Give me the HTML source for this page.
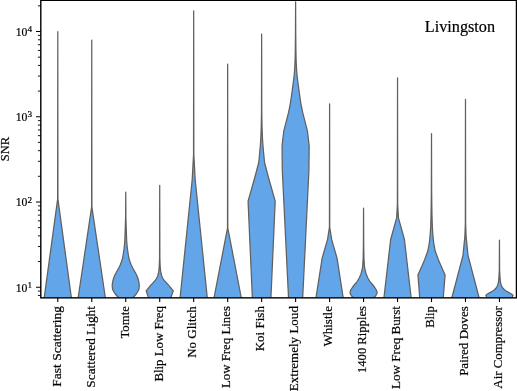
<!DOCTYPE html>
<html><head><meta charset="utf-8"><title>Livingston SNR</title>
<style>html,body{margin:0;padding:0;background:#fff;overflow:hidden}svg{display:block}</style></head>
<body>
<svg width="517" height="391" viewBox="0 0 517 391" style="display:block">
<rect width="517" height="391" fill="#ffffff"/>
<defs><clipPath id="ax"><rect x="40.8" y="0.3" width="475.65000000000003" height="297.55"/></clipPath></defs>
<g clip-path="url(#ax)" fill="#62a5e8" stroke="#606060" stroke-width="1.25" stroke-linejoin="round">
<path d="M57.79 31.70 L57.94 199.10 L71.36 297.50 L71.70 300.00 L43.88 300.00 L44.22 297.50 L57.64 199.10 Z"/>
<path d="M91.76 40.00 L91.91 207.10 L105.33 297.50 L105.70 300.00 L77.82 300.00 L78.19 297.50 L91.61 207.10 Z"/>
<path d="M125.74 192.00 L125.89 217.00 L126.34 232.00 L126.64 240.00 L127.24 247.70 L127.74 251.00 L128.34 255.00 L128.84 258.00 L129.94 261.50 L131.24 265.00 L132.74 268.00 L134.44 271.00 L136.64 275.00 L138.04 278.70 L138.94 282.50 L139.31 286.00 L138.94 289.00 L138.14 291.00 L136.24 294.00 L134.04 296.50 L132.74 298.00 L130.74 300.00 L120.74 300.00 L118.74 298.00 L117.44 296.50 L115.24 294.00 L113.34 291.00 L112.54 289.00 L112.17 286.00 L112.54 282.50 L113.44 278.70 L114.84 275.00 L117.04 271.00 L118.74 268.00 L120.24 265.00 L121.54 261.50 L122.64 258.00 L123.14 255.00 L123.74 251.00 L124.24 247.70 L124.84 240.00 L125.14 232.00 L125.59 217.00 Z"/>
<path d="M159.71 185.40 L159.86 258.00 L160.11 265.00 L160.31 268.00 L160.61 271.00 L161.11 273.50 L161.71 275.90 L162.91 278.50 L164.01 280.20 L166.21 282.60 L168.61 285.20 L173.28 290.80 L170.91 297.50 L170.01 300.00 L149.41 300.00 L148.51 297.50 L146.14 290.80 L150.81 285.20 L153.21 282.60 L155.41 280.20 L156.51 278.50 L157.71 275.90 L158.31 273.50 L158.81 271.00 L159.11 268.00 L159.31 265.00 L159.56 258.00 Z"/>
<path d="M193.69 10.80 L193.84 154.90 L195.19 179.70 L207.26 297.50 L207.51 300.00 L179.86 300.00 L180.12 297.50 L192.19 179.70 L193.54 154.90 Z"/>
<path d="M227.66 64.00 L227.81 228.00 L241.23 297.50 L241.72 300.00 L213.61 300.00 L214.09 297.50 L227.51 228.00 Z"/>
<path d="M261.64 34.00 L261.79 112.00 L262.04 127.00 L262.44 137.40 L262.84 144.00 L263.54 152.10 L264.54 162.50 L268.34 177.00 L275.21 201.20 L270.94 297.50 L270.83 300.00 L252.45 300.00 L252.34 297.50 L248.07 201.20 L254.94 177.00 L258.74 162.50 L259.74 152.10 L260.44 144.00 L260.84 137.40 L261.24 127.00 L261.49 112.00 Z"/>
<path d="M295.61 1.90 L295.76 36.00 L295.91 50.00 L296.11 60.00 L296.61 70.00 L297.11 76.00 L297.61 80.00 L298.01 83.20 L298.51 86.70 L299.01 90.50 L299.61 94.90 L300.31 99.80 L301.21 105.50 L302.61 112.20 L304.71 120.40 L307.41 130.90 L309.18 145.70 L308.91 170.80 L302.71 297.50 L302.59 300.00 L288.63 300.00 L288.51 297.50 L282.31 170.80 L282.04 145.70 L283.81 130.90 L286.51 120.40 L288.61 112.20 L290.01 105.50 L290.91 99.80 L291.61 94.90 L292.21 90.50 L292.71 86.70 L293.21 83.20 L293.61 80.00 L294.11 76.00 L294.61 70.00 L295.11 60.00 L295.31 50.00 L295.46 36.00 Z"/>
<path d="M329.59 103.80 L329.74 227.40 L331.69 239.70 L337.09 258.30 L343.16 297.50 L343.54 300.00 L315.63 300.00 L316.02 297.50 L322.09 258.30 L327.49 239.70 L329.44 227.40 Z"/>
<path d="M363.56 208.20 L363.71 245.00 L363.96 258.60 L364.46 266.30 L365.06 270.00 L366.16 274.00 L367.86 278.00 L370.16 281.80 L372.46 284.50 L374.76 287.50 L376.56 290.30 L377.13 292.40 L376.56 294.50 L375.36 296.20 L373.56 297.50 L370.06 300.00 L357.06 300.00 L353.56 297.50 L351.76 296.20 L350.56 294.50 L349.99 292.40 L350.56 290.30 L352.36 287.50 L354.66 284.50 L356.96 281.80 L359.26 278.00 L360.96 274.00 L362.06 270.00 L362.66 266.30 L363.16 258.60 L363.41 245.00 Z"/>
<path d="M397.54 77.90 L397.69 204.30 L398.44 217.90 L404.44 239.50 L411.11 297.50 L411.40 300.00 L383.68 300.00 L383.97 297.50 L390.64 239.50 L396.64 217.90 L397.39 204.30 Z"/>
<path d="M431.51 133.60 L431.66 190.00 L431.81 205.00 L432.01 216.00 L432.31 226.30 L432.61 231.10 L433.01 236.60 L433.71 243.10 L435.21 251.00 L438.91 261.10 L445.08 275.00 L443.31 297.50 L443.12 300.00 L419.91 300.00 L419.71 297.50 L417.94 275.00 L424.11 261.10 L427.81 251.00 L429.31 243.10 L430.01 236.60 L430.41 231.10 L430.71 226.30 L431.01 216.00 L431.21 205.00 L431.36 190.00 Z"/>
<path d="M465.49 99.30 L465.64 223.50 L466.09 236.10 L467.99 255.30 L479.06 297.50 L479.71 300.00 L451.26 300.00 L451.92 297.50 L462.99 255.30 L464.89 236.10 L465.34 223.50 Z"/>
<path d="M499.46 240.00 L499.61 270.00 L500.06 278.70 L500.46 282.00 L501.16 284.90 L502.36 287.50 L504.16 289.50 L506.16 291.00 L508.96 292.60 L511.46 294.00 L513.03 295.20 L512.36 297.00 L510.46 300.00 L488.46 300.00 L486.56 297.00 L485.89 295.20 L487.46 294.00 L489.96 292.60 L492.76 291.00 L494.76 289.50 L496.56 287.50 L497.76 284.90 L498.46 282.00 L498.86 278.70 L499.31 270.00 Z"/>
</g>
<rect x="40.8" y="0.3" width="475.65000000000003" height="297.55" fill="none" stroke="#000" stroke-width="1.4"/>
<path d="M57.79 297.85 v4.2 M91.76 297.85 v4.2 M125.74 297.85 v4.2 M159.71 297.85 v4.2 M193.69 297.85 v4.2 M227.66 297.85 v4.2 M261.64 297.85 v4.2 M295.61 297.85 v4.2 M329.59 297.85 v4.2 M363.56 297.85 v4.2 M397.54 297.85 v4.2 M431.51 297.85 v4.2 M465.49 297.85 v4.2 M499.46 297.85 v4.2 M40.8 287.20 h-4.8 M40.8 201.97 h-4.8 M40.8 116.74 h-4.8 M40.8 31.51 h-4.8" stroke="#000" stroke-width="1.1" fill="none"/>
<path d="M40.8 295.46 h-2.9 M40.8 291.10 h-2.9 M40.8 261.54 h-2.9 M40.8 246.53 h-2.9 M40.8 235.89 h-2.9 M40.8 227.63 h-2.9 M40.8 220.88 h-2.9 M40.8 215.17 h-2.9 M40.8 210.23 h-2.9 M40.8 205.87 h-2.9 M40.8 176.31 h-2.9 M40.8 161.30 h-2.9 M40.8 150.66 h-2.9 M40.8 142.40 h-2.9 M40.8 135.65 h-2.9 M40.8 129.94 h-2.9 M40.8 125.00 h-2.9 M40.8 120.64 h-2.9 M40.8 91.08 h-2.9 M40.8 76.07 h-2.9 M40.8 65.43 h-2.9 M40.8 57.17 h-2.9 M40.8 50.42 h-2.9 M40.8 44.71 h-2.9 M40.8 39.77 h-2.9 M40.8 35.41 h-2.9 M40.8 5.85 h-2.9" stroke="#000" stroke-width="0.9" fill="none"/>
<g font-family='"Liberation Serif", serif' fill="#000" stroke="#000" stroke-width="0.2">
<text x="15.7" y="291.50" font-size="12.6" textLength="11.7" lengthAdjust="spacingAndGlyphs">10</text>
<text x="27.5" y="287.80" font-size="9.2">1</text>
<text x="15.7" y="206.27" font-size="12.6" textLength="11.7" lengthAdjust="spacingAndGlyphs">10</text>
<text x="27.5" y="202.57" font-size="9.2">2</text>
<text x="15.7" y="121.04" font-size="12.6" textLength="11.7" lengthAdjust="spacingAndGlyphs">10</text>
<text x="27.5" y="117.34" font-size="9.2">3</text>
<text x="15.7" y="35.81" font-size="12.6" textLength="11.7" lengthAdjust="spacingAndGlyphs">10</text>
<text x="27.5" y="32.11" font-size="9.2">4</text>
<text transform="translate(9.2 161.25) rotate(-90)" font-size="13" textLength="24.50" lengthAdjust="spacingAndGlyphs">SNR</text>
<text transform="translate(60.59 386.70) rotate(-90)" font-size="12.6" textLength="80.60" lengthAdjust="spacingAndGlyphs">Fast Scattering</text>
<text transform="translate(94.56 387.64) rotate(-90)" font-size="12.6" textLength="81.54" lengthAdjust="spacingAndGlyphs">Scattered Light</text>
<text transform="translate(128.54 338.60) rotate(-90)" font-size="12.6" textLength="32.50" lengthAdjust="spacingAndGlyphs">Tomte</text>
<text transform="translate(162.51 381.60) rotate(-90)" font-size="12.6" textLength="75.50" lengthAdjust="spacingAndGlyphs">Blip Low Freq</text>
<text transform="translate(196.49 357.86) rotate(-90)" font-size="12.6" textLength="51.76" lengthAdjust="spacingAndGlyphs">No Glitch</text>
<text transform="translate(230.46 388.02) rotate(-90)" font-size="12.6" textLength="81.92" lengthAdjust="spacingAndGlyphs">Low Freq Lines</text>
<text transform="translate(264.44 351.34) rotate(-90)" font-size="12.6" textLength="45.24" lengthAdjust="spacingAndGlyphs">Koi Fish</text>
<text transform="translate(298.41 391.14) rotate(-90)" font-size="12.6" textLength="85.04" lengthAdjust="spacingAndGlyphs">Extremely Loud</text>
<text transform="translate(332.39 346.50) rotate(-90)" font-size="12.6" textLength="40.40" lengthAdjust="spacingAndGlyphs">Whistle</text>
<text transform="translate(366.36 373.00) rotate(-90)" font-size="12.6" textLength="66.90" lengthAdjust="spacingAndGlyphs">1400 Ripples</text>
<text transform="translate(400.34 388.98) rotate(-90)" font-size="12.6" textLength="82.88" lengthAdjust="spacingAndGlyphs">Low Freq Burst</text>
<text transform="translate(434.31 327.80) rotate(-90)" font-size="12.6" textLength="21.70" lengthAdjust="spacingAndGlyphs">Blip</text>
<text transform="translate(468.29 375.87) rotate(-90)" font-size="12.6" textLength="69.77" lengthAdjust="spacingAndGlyphs">Paired Doves</text>
<text transform="translate(502.26 388.66) rotate(-90)" font-size="12.6" textLength="82.56" lengthAdjust="spacingAndGlyphs">Air Compressor</text>
<text x="424.8" y="32.1" font-size="16" textLength="70.2" lengthAdjust="spacingAndGlyphs">Livingston</text>
</g>
</svg>
</body></html>
